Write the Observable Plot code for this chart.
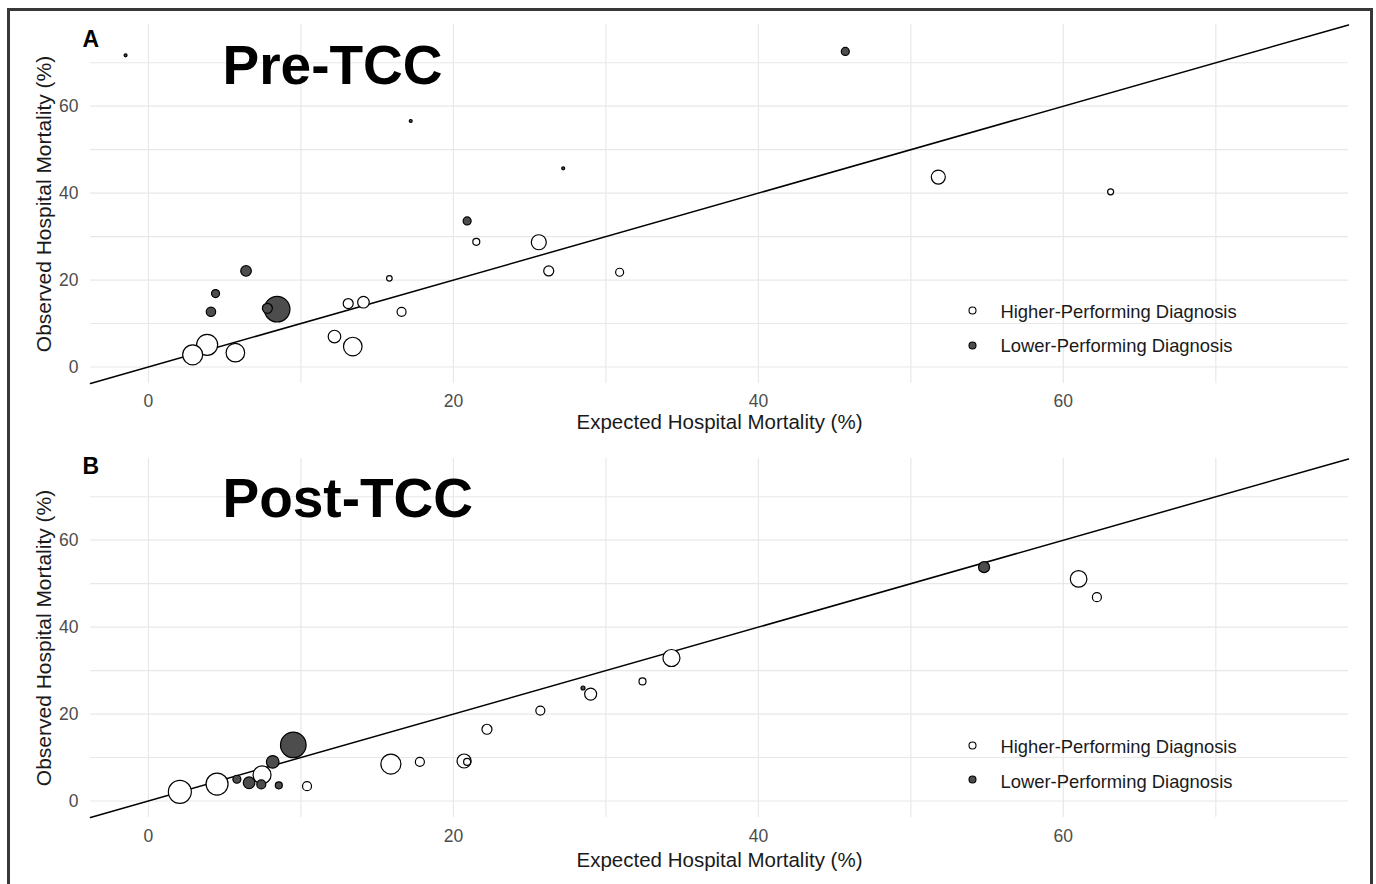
<!DOCTYPE html>
<html>
<head>
<meta charset="utf-8">
<script src="https://cdn.jsdelivr.net/npm/d3@7"></script>
<script src="https://cdn.jsdelivr.net/npm/@observablehq/plot@0.6"></script>
<style>
  html, body { margin: 0; padding: 0; background: #fff; overflow: hidden; }
  #fig { position: relative; width: 1376px; height: 884px; overflow: hidden; font-family: "Liberation Sans", Arial, sans-serif; }
  .panel { position: absolute; left: 0; }
  #frame { position: absolute; left: 7px; top: 8px; width: 1366px; height: 920px; border: 3px solid #383838; box-sizing: border-box; pointer-events: none; }
</style>
</head>
<body>
<div id="fig">
  <div id="panelA" class="panel" style="top:0px"></div>
  <div id="panelB" class="panel" style="top:440px"></div>
  <div id="frame"></div>
</div>
<script>
// ---- Data ----
const groupLabels = ["Higher-Performing Diagnosis", "Lower-Performing Diagnosis"];
const xTicks = [0, 20, 40, 60];
const yTicks = [0, 20, 40, 60];
const gridTicks = [0, 10, 20, 30, 40, 50, 60, 70];
const xLabel = "Expected Hospital Mortality (%)";
const yLabel = "Observed Hospital Mortality (%)";

// Panel A: Pre-TCC
const preExpected = [-1.5, 17.2, 6.4, 4.4, 4.1, 8.44, 7.8, 2.9, 3.85, 5.7, 12.2, 13.4, 13.1, 14.1, 15.8, 16.6, 20.9, 21.5, 25.6, 26.25, 30.9, 27.2, 45.7, 51.8, 63.1];
const preObserved = [71.7, 56.6, 22.1, 16.9, 12.7, 13.3, 13.5, 2.8, 5.1, 3.3, 7.0, 4.7, 14.6, 14.9, 20.4, 12.7, 33.6, 28.8, 28.7, 22.1, 21.8, 45.7, 72.6, 43.7, 40.3];
const preCases    = [22, 22, 281, 160, 221, 1638, 250, 1000, 1103, 865, 397, 865, 250, 336, 78, 203, 160, 123, 563, 250, 160, 22, 160, 490, 90];
const preGroup    = ["L","L","L","L","L","L","L","H","H","H","H","H","H","H","H","H","L","H","H","H","H","L","L","H","H"];

// Panel B: Post-TCC
const postExpected = [2.06, 4.5, 5.8, 6.6, 7.4, 7.45, 8.15, 8.55, 9.5, 10.4, 15.9, 17.8, 20.7, 20.9, 22.2, 25.7, 28.5, 29.0, 32.4, 34.3, 54.8, 61.0, 62.2];
const postObserved = [2.1, 3.9, 5.0, 4.2, 3.8, 6.0, 9.0, 3.6, 12.9, 3.4, 8.5, 9.0, 9.2, 9.0, 16.5, 20.8, 26.0, 24.6, 27.5, 32.9, 53.8, 51.1, 46.9];
const postCases    = [1323, 1210, 160, 336, 203, 810, 397, 123, 1638, 203, 1000, 203, 490, 123, 250, 203, 40, 360, 123, 723, 303, 689, 203];
const postGroup    = ["H","H","L","L","L","H","L","L","L","H","H","H","H","H","H","H","L","H","H","H","L","H","H"];

const xDomain = [-3.8, 78.7];
const yDomain = [-3.8, 78.8];

function rows(ex, ob, n, g) {
  const r = ex.map((e, i) => ({
    expected: e, observed: ob[i], cases: n[i],
    group: g[i] === "H" ? groupLabels[0] : groupLabels[1]
  }));
  // open (higher-performing) symbols first, filled drawn on top
  return r.sort((a, b) => groupLabels.indexOf(a.group) - groupLabels.indexOf(b.group));
}

function panel(opts) {
  const data = rows(opts.ex, opts.ob, opts.n, opts.g);
  const identity = xDomain.map(v => ({x: v, y: v}));
  const txt = {lineAnchor: "middle"};
  return Plot.plot({
    width: 1376,
    height: opts.height,
    marginLeft: 90,
    marginRight: 28,
    marginTop: opts.top,
    marginBottom: opts.bottom,
    style: {fontFamily: '"Liberation Sans", Arial, sans-serif', background: "transparent"},
    x: {domain: xDomain, label: null},
    y: {domain: yDomain, label: null},
    r: {type: "sqrt", domain: [0, 1690], range: [0, 13]},
    color: {type: "ordinal", domain: groupLabels, range: ["#ffffff", "#4d4d4d"]},
    marks: [
      Plot.gridX(gridTicks, {stroke: "#e8e8e8", strokeOpacity: 1, strokeWidth: 1.2}),
      Plot.gridY(gridTicks, {stroke: "#e8e8e8", strokeOpacity: 1, strokeWidth: 1.2}),
      Plot.axisX({ticks: xTicks, tickSize: 0, tickPadding: opts.xPad, fontSize: 17.5, color: "#4d4d4d", label: null}),
      Plot.axisY({ticks: yTicks, tickSize: 0, tickPadding: 12, fontSize: 17.5, color: "#4d4d4d", label: null}),
      Plot.line(identity, {x: "x", y: "y", stroke: "#000", strokeWidth: 1.5}),
      Plot.dot(data, {x: "expected", y: "observed", r: "cases", fill: "group", stroke: "#000", strokeWidth: 1.2}),
      // axis titles
      Plot.text([xLabel], {...txt, text: d => d, frameAnchor: "bottom", textAnchor: "middle", dy: opts.xTitleDy, fontSize: 20.5, fill: "#1a1a1a"}),
      Plot.text([yLabel], {...txt, text: d => d, frameAnchor: "left", textAnchor: "middle", dx: -46.5, rotate: -90, fontSize: 21, fill: "#1a1a1a"}),
      // panel tag and title
      Plot.text([opts.tag], {...txt, text: d => d, frameAnchor: "top-left", textAnchor: "start", dx: -8, dy: opts.tagDy, fontSize: 23, fontWeight: "bold", fill: "#000"}),
      Plot.text([opts.title], {...txt, text: d => d, frameAnchor: "top-left", textAnchor: "start", dx: 132, dy: opts.titleDy, fontSize: 55, fontWeight: "bold", fill: "#000"}),
      // legend
      Plot.dot([groupLabels[0]], {frameAnchor: "bottom-right", dx: -376, dy: opts.leg[0], r: 3.5, fill: d => d, stroke: "#000", strokeWidth: 1.1}),
      Plot.dot([groupLabels[1]], {frameAnchor: "bottom-right", dx: -376, dy: opts.leg[1], r: 3.5, fill: d => d, stroke: "#000", strokeWidth: 1.1}),
      Plot.text([groupLabels[0]], {...txt, text: d => d, frameAnchor: "bottom-right", textAnchor: "start", dx: -348, dy: opts.legText[0], fontSize: 18.4, fill: "#1a1a1a"}),
      Plot.text([groupLabels[1]], {...txt, text: d => d, frameAnchor: "bottom-right", textAnchor: "start", dx: -348, dy: opts.legText[1], fontSize: 18.4, fill: "#1a1a1a"})
    ]
  });
}

document.getElementById("panelA").appendChild(panel({
  ex: preExpected, ob: preObserved, n: preCases, g: preGroup,
  height: 440, top: 24, bottom: 57, xPad: 11, xTitleDy: 38.5,
  tag: "A", tagDy: 15, title: "Pre-TCC", titleDy: 42,
  leg: [-73, -38], legText: [-71, -37]
}));
document.getElementById("panelB").appendChild(panel({
  ex: postExpected, ob: postObserved, n: postCases, g: postGroup,
  height: 444, top: 18, bottom: 67, xPad: 12, xTitleDy: 43,
  tag: "B", tagDy: 8, title: "Post-TCC", titleDy: 41,
  leg: [-72, -38], legText: [-70, -35]
}));
</script>
</body>
</html>
